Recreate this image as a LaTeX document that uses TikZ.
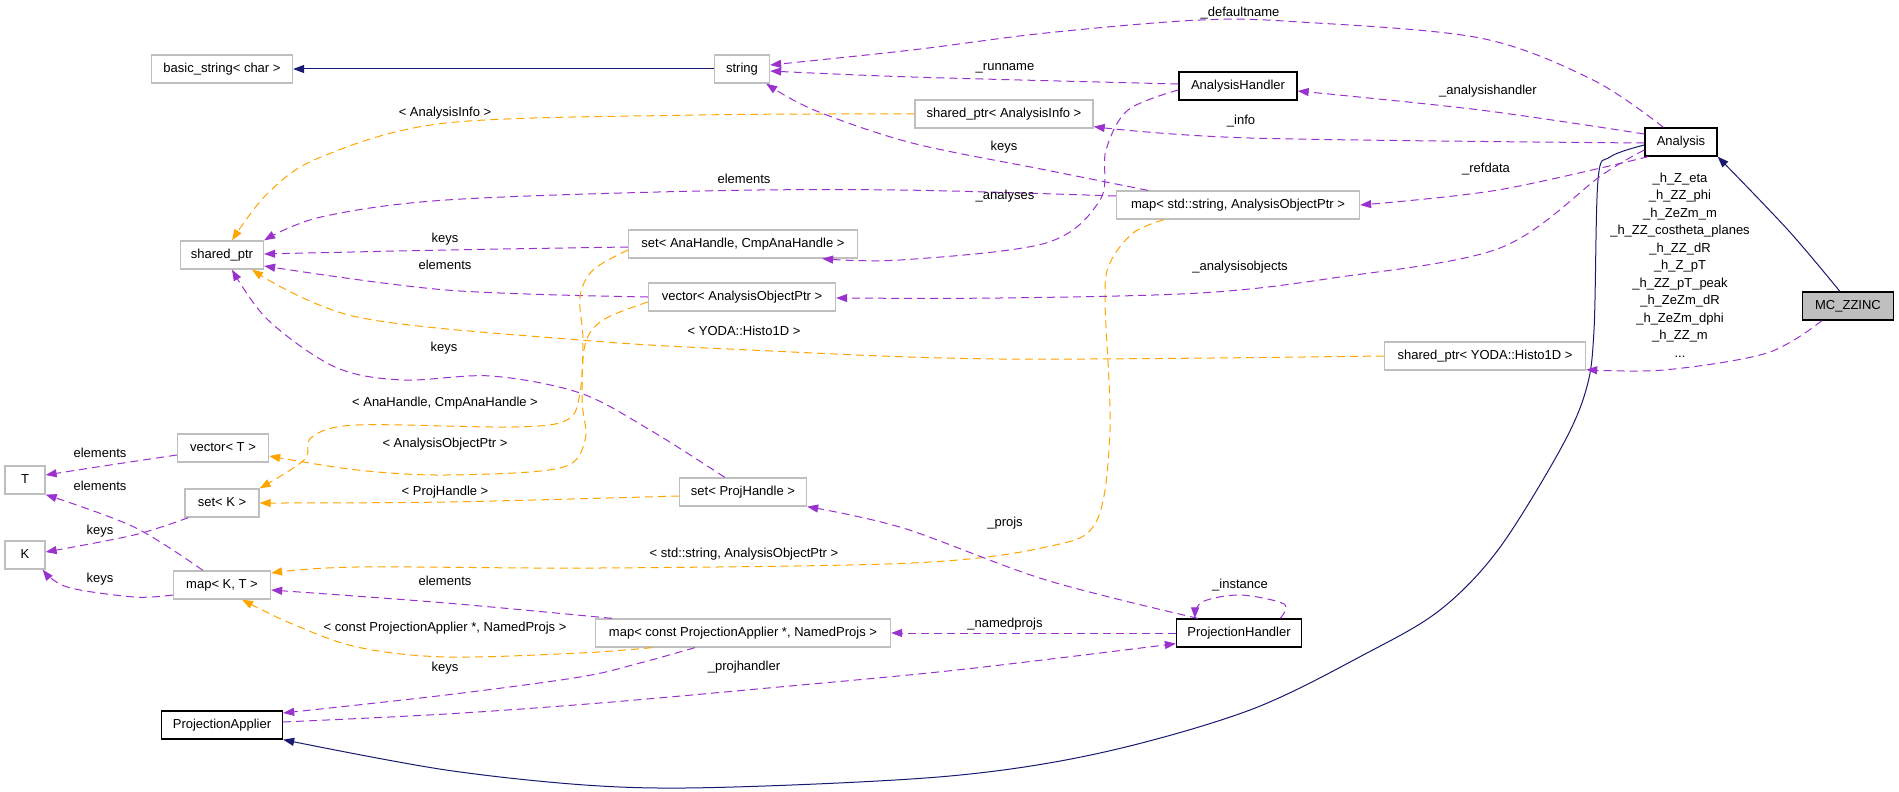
\documentclass[tikz,border=0pt]{standalone}
\usepackage{fontspec}
\setmainfont{Liberation Sans}
\usetikzlibrary{arrows.meta,calc}
\definecolor{purp}{HTML}{9A32CD}
\definecolor{orng}{HTML}{FFA500}
\definecolor{navyb}{HTML}{191970}
\definecolor{boxgray}{HTML}{BFBFBF}
\newcommand\dxfont{\fontsize{13}{15}\selectfont}
\begin{document}
\begin{tikzpicture}[x=1pt,y=-1pt,
  box/.style={draw=boxgray, line width=1.3pt, minimum height=28pt, inner sep=0pt, font=\dxfont, text height=9.4pt, text depth=2.7pt},
  docbox/.style={box, draw=black},
  lbl/.style={font=\dxfont, inner sep=0pt, text height=9.4pt, text depth=2.7pt},
  tipx/.style={-{Triangle[length=11pt,width=8pt]}},
  mem/.style={draw=purp, line width=1pt, dash pattern=on 8pt off 5pt, tipx},
  tmpl/.style={draw=orng, line width=1pt, dash pattern=on 8pt off 5pt, tipx},
  inh/.style={draw=navyb, line width=1pt, tipx},
  sm/.style={smooth, tension=0.55}]
\useasboundingbox[fill=white] (0,0) rectangle (1899,792);

% nodes
\node[box, minimum width=141pt] (bstr) at (222,69) {basic\_string< char >};
\node[box, minimum width=55pt] (str) at (742,69) {string};
\node[docbox, minimum width=118pt] (ah) at (1238,86) {AnalysisHandler};
\node[box, minimum width=178pt] (spai) at (1004,114) {shared\_ptr< AnalysisInfo >};
\node[docbox, minimum width=72pt] (ana) at (1681,142) {Analysis};
\node[box, minimum width=83pt] (sp) at (222,255) {shared\_ptr};
\node[box, minimum width=243pt] (mapstr) at (1238,205) {map< std::string, AnalysisObjectPtr >};
\node[box, minimum width=229pt] (setah) at (743,244) {set< AnaHandle, CmpAnaHandle >};
\node[box, minimum width=187pt] (vaop) at (742,297) {vector< AnalysisObjectPtr >};
\node[box, minimum width=201pt] (spyoda) at (1485,356) {shared\_ptr< YODA::Histo1D >};
\node[docbox, fill=boxgray, minimum width=91pt] (mc) at (1848,306) {MC\_ZZINC};
\node[box, minimum width=91pt] (vt) at (223,448) {vector< T >};
\node[box, minimum width=40pt] (T) at (25,480) {T};
\node[box, minimum width=74pt] (setk) at (222,503) {set< K >};
\node[box, minimum width=127pt] (setph) at (743,492) {set< ProjHandle >};
\node[box, minimum width=40pt] (K) at (25,555) {K};
\node[box, minimum width=97pt] (mapkt) at (222,585) {map< K, T >};
\node[box, minimum width=295pt] (mapc) at (743,633) {map< const ProjectionApplier *, NamedProjs >};
\node[docbox, minimum width=125pt] (ph) at (1239,633) {ProjectionHandler};
\node[docbox, minimum width=121pt] (pa) at (222,725) {ProjectionApplier};

% inheritance
\draw[inh] (str.west) -- (bstr.east);
\draw[inh] plot[sm] coordinates {($(mc.north west)+(38,0)$) (1788,230) (ana.south east)};
\draw[inh] plot[sm] coordinates {($(ana.west)+(0,3)$) (1610,157) (1598,180) (1594,330) (1586,390) (1560,450) (1498,550) (1440,610) (1367,653) (1250,710) (1100,753) (950,776) (734,787) (600,786) (446,770) (pa.south east)};

% members
\draw[mem] plot[sm] coordinates {($(ana.north west)+(19,0)$) (1593,80) (1480,38) (1300,22) (1200,20) (1046,33) (912,50) ($(str.east)+(0,-4)$)};
\draw[mem] plot[sm] coordinates {($(ah.west)+(0,-2)$) (912,77) ($(str.east)+(0,2)$)};
\draw[mem] plot[sm] coordinates {($(mapstr.north west)+(32,0)$) (1046,170) (912,143) (814,110) ($(str.south east)+(-4,0)$)};
\draw[mem] plot[sm] coordinates {($(ana.west)+(0,-8)$) (1480,110) ($(ah.east)+(0,5)$)};
\draw[mem] plot[sm] coordinates {($(ana.west)+(0,1)$) (1250,138) ($(spai.south east)+(0,-2)$)};
\draw[tmpl] plot[sm] coordinates {(spai.west) (700,115) (446,123) (321,157) (268,193) ($(sp.north)+(10,0)$)};
\draw[mem] plot[sm] coordinates {($(ah.west)+(0,4)$) (1128,110) (1106,150) (1100,200) (1046,243) (900,260) ($(setah.south east)+(-36,0)$)};
\draw[mem] plot[sm] coordinates {($(mapstr.west)+(0,-9)$) (900,190) (700,191) (446,200) (321,217) (sp.north east)};
\draw[mem] plot[sm] coordinates {($(setah.west)+(0,3)$) (446,250) ($(sp.east)+(0,-1)$)};
\draw[mem] plot[sm] coordinates {(vaop.west) (446,290) ($(sp.east)+(0,11)$)};
\draw[tmpl] plot[sm] coordinates {(spyoda.west) (1000,359) (750,350) (580,340) (357,317) ($(sp.south)+(30,0)$)};
\draw[mem] plot[sm] coordinates {($(setph.north west)+(46,0)$) (650,430) (580,393) (491,376) (402,380) (335,367) (268,320) ($(sp.south)+(10,0)$)};
\draw[tmpl] plot[sm] coordinates {($(vaop.west)+(0,5)$) (603,320) (585,345) (582,400) (585,440) (560,468) (446,475) (357,470) ($(vt.east)+(0,8)$)};
\draw[tmpl] plot[sm] coordinates {($(setah.west)+(0,6)$) (593,270) (580,297) (583,340) (580,393) (567,420) (513,427) (357,425) (312,437) (304,460) (setk.north east)};
\draw[tmpl] plot[sm] coordinates {($(setph.west)+(0,4)$) (446,502) (setk.east)};
\draw[mem] plot[sm] coordinates {($(vt.west)+(0,7)$) (110,465) ($(T.east)+(0,-5)$)};
\draw[mem] plot[sm] coordinates {($(mapkt.north west)+(30,0)$) (134,527) (T.south east)};
\draw[mem] plot[sm] coordinates {($(setk.south west)+(4,0)$) (134,535) ($(K.east)+(0,-3)$)};
\draw[mem] plot[sm] coordinates {($(mapkt.west)+(0,10)$) (134,597) (67,587) ($(K.south east)+(-3,0)$)};
\draw[tmpl] plot[sm] coordinates {($(mapstr.south west)+(48,0)$) (1133,233) (1110,263) (1105,300) (1110,430) (1096,522) (1046,547) (912,563) (600,568) (357,567) ($(mapkt.east)+(0,-12)$)};
\draw[mem] plot[sm] coordinates {($(mapc.north west)+(17,0)$) (446,603) ($(mapkt.east)+(0,5)$)};
\draw[tmpl] plot[sm] coordinates {($(mapc.south west)+(57,0)$) (580,653) (446,657) (357,647) (290,623) ($(mapkt.south)+(20,0)$)};
\draw[mem] plot[sm] coordinates {($(mapc.south west)+(100,0)$) (640,663) (580,677) (446,695) ($(pa.east)+(0,-12)$)};
\draw[mem] plot[sm] coordinates {($(pa.east)+(0,-3)$) (446,714) (600,703) (779,687) (957,670) ($(ph.south west)+(0,-4)$)};
\draw[mem] (ph.west) -- (mapc.east);
\draw[mem] plot[sm] coordinates {($(ph.north west)+(22,0)$) (1046,580) (903,528) (setph.south east)};
\draw[mem] plot[sm] coordinates {($(ph.north east)+(-22,0)$) (1284,604) (1240,595) (1202,602) ($(ph.north west)+(19,0)$)};
\draw[mem] plot[sm] coordinates {($(mc.south west)+(20,0)$) (1767,353) (1664,370) ($(spyoda.south east)+(0,-1)$)};
\draw[mem] plot[sm] coordinates {($(ana.south west)+(4,0)$) (1498,190) (mapstr.east)};
\draw[mem] plot[sm] coordinates {($(ana.west)+(0,8)$) (1602,175) (1500,248) (1333,278) (1200,293) (1000,298) ($(vaop.east)+(0,1)$)};

% labels
\node[lbl] (l1) at (1240,13) {\_defaultname};
\node[lbl] (l2) at (1005,67) {\_runname};
\node[lbl] (l3) at (1488,91) {\_analysishandler};
\node[lbl] (l4) at (445,113) {< AnalysisInfo >};
\node[lbl] (l5) at (1241,121) {\_info};
\node[lbl] (l6) at (1004,147) {keys};
\node[lbl] (l7) at (1486,169) {\_refdata};
\node[lbl] (l8) at (744,180) {elements};
\node[lbl] (l9) at (1005,196) {\_analyses};
\node[lbl] (l10) at (445,239) {keys};
\node[lbl] (l11) at (445,266) {elements};
\node[lbl] (l12) at (1240,267) {\_analysisobjects};
\node[lbl] (l13) at (744,332) {< YODA::Histo1D >};
\node[lbl] (l14) at (444,348) {keys};
\node[lbl] (l15) at (445,403) {< AnaHandle, CmpAnaHandle >};
\node[lbl] (l16) at (445,444) {< AnalysisObjectPtr >};
\node[lbl] (l17) at (100,454) {elements};
\node[lbl] (l18) at (100,487) {elements};
\node[lbl] (l19) at (445,492) {< ProjHandle >};
\node[lbl] (l20) at (1005,523) {\_projs};
\node[lbl] (l21) at (100,531) {keys};
\node[lbl] (l22) at (744,554) {< std::string, AnalysisObjectPtr >};
\node[lbl] (l23) at (100,579) {keys};
\node[lbl] (l24) at (445,582) {elements};
\node[lbl] (l25) at (1240,585) {\_instance};
\node[lbl] (l26) at (1005,624) {\_namedprojs};
\node[lbl] (l27) at (445,628) {< const ProjectionApplier *, NamedProjs >};
\node[lbl] (l28) at (744,667) {\_projhandler};
\node[lbl] (l29) at (445,668) {keys};
\node[inner sep=0pt, align=center, font=\fontsize{13}{17.5}\selectfont] (lmem) at (1680,265) {\_h\_Z\_eta\\\_h\_ZZ\_phi\\\_h\_ZeZm\_m\\\_h\_ZZ\_costheta\_planes\\\_h\_ZZ\_dR\\\_h\_Z\_pT\\\_h\_ZZ\_pT\_peak\\\_h\_ZeZm\_dR\\\_h\_ZeZm\_dphi\\\_h\_ZZ\_m\\...};
\end{tikzpicture}
\end{document}
